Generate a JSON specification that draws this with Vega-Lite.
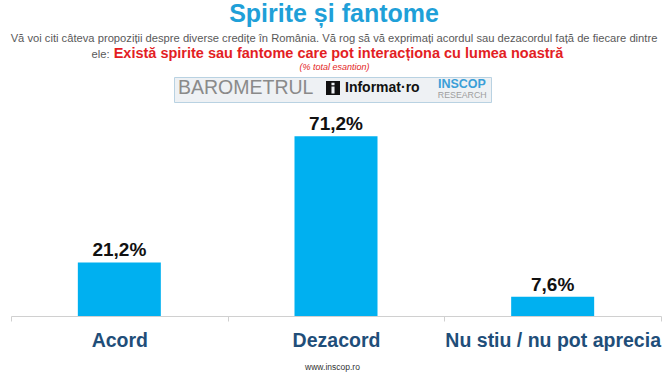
{
  "$schema": "https://vega.github.io/schema/vega-lite/v6.json",
  "width": 650,
  "height": 202,
  "autosize": "none",
  "padding": {"left": 11, "top": 114, "right": 7, "bottom": 60},
  "background": "white",
  "config": {"view": {"stroke": null}, "font": "Liberation Sans", "axis": {"grid": false}},
  "title": {
    "text": "Spirite și fantome",
    "subtitle": "Vă voi citi câteva propoziții despre diverse credițe în România. Vă rog să vă exprimați acordul sau dezacordul față de fiecare dintre",
    "anchor": "middle",
    "frame": "group",
    "font": "Liberation Sans",
    "fontSize": 25,
    "fontWeight": "bold",
    "color": "#1fa0d8",
    "subtitleFont": "Liberation Sans",
    "subtitleFontSize": 11.2,
    "subtitleColor": "#595959",
    "subtitlePadding": 6,
    "offset": 1,
    "dx": -2
  },
  "data": {"values": [
    {"cat": "Acord", "pct": 21.2, "label": "21,2%"},
    {"cat": "Dezacord", "pct": 71.2, "label": "71,2%"},
    {"cat": "Nu stiu / nu pot aprecia", "pct": 7.6, "label": "7,6%"}
  ]},
  "layer": [
    {
      "mark": {"type": "bar", "width": 83},
      "encoding": {
        "x": {
          "field": "cat", "type": "nominal", "sort": null,
          "scale": {"paddingInner": 0, "paddingOuter": 0},
          "axis": {
            "orient": "bottom",
            "title": "www.inscop.ro",
            "titleFont": "Liberation Sans", "titleFontSize": 8.5, "titleFontWeight": "normal", "titleColor": "#333333",
            "titleX": 321, "titleY": 53, "titleAlign": "center", "titleBaseline": "alphabetic",
            "labelAngle": 0, "labelFont": "Liberation Sans", "labelFontSize": 19.5, "labelFontWeight": "bold",
            "labelColor": "#1f4e79", "labelPadding": 25, "labelBaseline": "alphabetic", "labelLimit": 300,
            "labelOverlap": false, "labelFlush": false,
            "domainColor": "#d0d0d0", "tickColor": "#d0d0d0", "tickSize": 5, "tickBand": "extent"
          }
        },
        "y": {
          "field": "pct", "type": "quantitative",
          "scale": {"domain": [0, 80]},
          "axis": {
            "orient": "left", "domain": false, "ticks": false, "labels": false, "grid": false,
            "title": "(% total esantion)", "titleAngle": 0, "titleX": 323, "titleY": -45,
            "titleAlign": "center", "titleBaseline": "alphabetic",
            "titleFont": "Liberation Sans", "titleFontSize": 9, "titleFontStyle": "italic", "titleFontWeight": "normal",
            "titleColor": "#e31e24"
          }
        },
        "color": {
          "datum": "RESEARCH",
          "scale": {"range": ["#00b0f0"]},
          "legend": {
            "orient": "none", "legendX": 427, "legendY": -36,
            "title": "INSCOP", "titleFont": "Liberation Sans", "titleFontSize": 12.5, "titleFontWeight": "bold",
            "titleColor": "#3b9fd8", "titlePadding": 0,
            "labelFont": "Liberation Sans", "labelFontSize": 8.8, "labelColor": "#9e9e9e",
            "symbolSize": 0, "symbolOpacity": 0, "labelOffset": -9, "padding": 0, "zindex": 2
          }
        }
      }
    },
    {
      "mark": {"type": "text", "dy": -6, "baseline": "alphabetic", "fontSize": 19, "fontWeight": "bold", "font": "Liberation Sans"},
      "encoding": {
        "x": {
          "field": "cat", "type": "nominal", "sort": null,
          "axis": {
            "orient": "top", "domain": false, "ticks": false, "labels": false,
            "title": "Există spirite sau fantome care pot interacționa cu lumea noastră",
            "titleFont": "Liberation Sans", "titleFontSize": 14.5, "titleFontWeight": "bold", "titleColor": "#e31e24",
            "titleX": 327, "titleY": -57, "titleAlign": "center", "titleBaseline": "alphabetic"
          }
        },
        "y": {
          "field": "pct", "type": "quantitative",
          "axis": {
            "orient": "right", "domain": false, "ticks": false, "labels": false, "grid": false,
            "title": "ele:", "titleAngle": 0, "titleX": -570, "titleY": -57,
            "titleAlign": "left", "titleBaseline": "alphabetic",
            "titleFont": "Liberation Sans", "titleFontSize": 11.2, "titleFontWeight": "normal", "titleColor": "#595959"
          }
        },
        "text": {"field": "label"},
        "color": {
          "datum": "Informat·ro",
          "scale": {"range": ["#111111"]},
          "legend": {
            "orient": "none", "legendX": 163, "legendY": -37, "direction": "horizontal",
            "title": "BAROMETRUL", "titleOrient": "left",
            "titleFont": "Liberation Sans", "titleFontSize": 19.5, "titleFontWeight": "normal", "titleColor": "#8a8a8a",
            "titlePadding": 12,
            "labelFont": "Liberation Sans", "labelFontSize": 14, "labelFontWeight": "bold", "labelColor": "#111111",
            "labelLimit": 400,
            "symbolType": "M-1,-1H1V1H-1Z M-0.22,-0.74V-0.38H0.22V-0.74Z M-0.22,-0.22V0.78H0.22V-0.22Z M22,0L22,0",
            "symbolSize": 196, "symbolStrokeWidth": 0, "labelOffset": 5,
            "padding": 4, "strokeColor": "#b9d2e2", "fillColor": "#eef1f4", "zindex": 1
          }
        }
      }
    }
  ],
  "resolve": {
    "scale": {"color": "independent"},
    "legend": {"color": "independent"},
    "axis": {"x": "independent", "y": "independent"}
  }
}
